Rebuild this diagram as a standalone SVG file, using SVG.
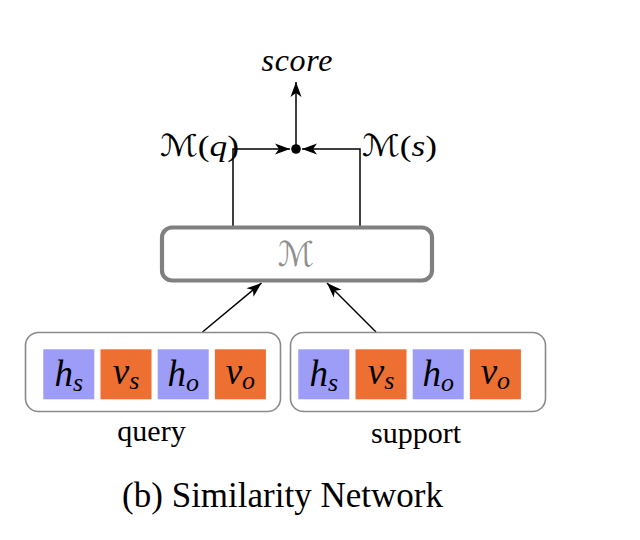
<svg xmlns="http://www.w3.org/2000/svg" width="640" height="540" viewBox="0 0 640 540">
<style>
.math{font-family:"Liberation Serif","DejaVu Serif",serif;font-style:italic;fill:#000}
.cal{font-family:"DejaVu Serif","DejaVu Sans",serif;font-style:normal}
.up{font-style:normal}
.lbl{font-family:"Liberation Serif","Times New Roman",serif;fill:#000}
.sq-h{fill:#9d9cf6}
.sq-v{fill:#ed6f31}
.grp{fill:#fff;stroke:#8a8a8a;stroke-width:1.6}
.cell{font-family:"Liberation Serif","DejaVu Serif",serif;font-style:italic;font-size:37px;text-anchor:middle;fill:#000}
.sub{font-size:26px}
.conn{fill:none;stroke:#000;stroke-width:1.5}
</style>
<defs>
<marker id="arr" viewBox="-16 -6 17 12" refX="0" refY="0" markerWidth="17" markerHeight="12" markerUnits="userSpaceOnUse" orient="auto">
<path d="M0,0 L-15,-5.5 L-11,0 L-15,5.5 Z" fill="#000"/>
</marker>
</defs>
<rect width="640" height="540" fill="#fff"/>

<g id="connectors">
<line class="conn" x1="296" y1="149" x2="296" y2="82" marker-end="url(#arr)"/>
<polyline class="conn" points="233,227 233,149 290,149" marker-end="url(#arr)"/>
<polyline class="conn" points="360,227 360,149 302,149" marker-end="url(#arr)"/>
<line class="conn" x1="202.5" y1="332" x2="261.5" y2="283" marker-end="url(#arr)"/>
<line class="conn" x1="376" y1="332" x2="327" y2="283" marker-end="url(#arr)"/>
<circle cx="296" cy="149" r="4.8" fill="#000"/>
</g>

<g id="score">
<text class="math" x="297" y="71" font-size="32" text-anchor="middle" textLength="71" lengthAdjust="spacing">score</text>
</g>

<g id="label-mq">
<text class="math" x="160" y="156" font-size="30" textLength="79" lengthAdjust="spacingAndGlyphs"><tspan class="cal">ℳ</tspan><tspan class="up">(</tspan>q<tspan class="up">)</tspan></text>
</g>
<g id="label-ms">
<text class="math" x="362" y="156" font-size="30" textLength="75" lengthAdjust="spacingAndGlyphs"><tspan class="cal">ℳ</tspan><tspan class="up">(</tspan>s<tspan class="up">)</tspan></text>
</g>

<g id="model">
<rect x="162" y="227.5" width="270" height="53" rx="10" fill="#fff" stroke="#808080" stroke-width="4.2"/>
<text class="cal" x="296" y="266" font-size="34" text-anchor="middle" fill="#909090">ℳ</text>
</g>

<g id="query">
<rect class="grp" x="25.5" y="332.5" width="255" height="79" rx="13"/>
<rect class="sq-h" x="43.3" y="349.3" width="51" height="50"/>
<rect class="sq-v" x="100.5" y="349.3" width="51" height="50"/>
<rect class="sq-h" x="157.7" y="349.3" width="51" height="50"/>
<rect class="sq-v" x="214.9" y="349.3" width="51" height="50"/>
<text class="cell" x="68.8" y="386">h<tspan class="sub" dy="5">s</tspan></text>
<text class="cell" x="126" y="384">v<tspan class="sub" dy="5">s</tspan></text>
<text class="cell" x="183.2" y="386">h<tspan class="sub" dy="5">o</tspan></text>
<text class="cell" x="240.4" y="384">v<tspan class="sub" dy="5">o</tspan></text>
<text class="lbl" x="151.5" y="441" font-size="30" text-anchor="middle">query</text>
</g>

<g id="support">
<rect class="grp" x="290.5" y="332.5" width="255" height="79" rx="13"/>
<rect class="sq-h" x="298.3" y="349.3" width="51" height="50"/>
<rect class="sq-v" x="355.5" y="349.3" width="51" height="50"/>
<rect class="sq-h" x="412.7" y="349.3" width="51" height="50"/>
<rect class="sq-v" x="469.9" y="349.3" width="51" height="50"/>
<text class="cell" x="323.8" y="386">h<tspan class="sub" dy="5">s</tspan></text>
<text class="cell" x="381" y="384">v<tspan class="sub" dy="5">s</tspan></text>
<text class="cell" x="438.2" y="386">h<tspan class="sub" dy="5">o</tspan></text>
<text class="cell" x="495.4" y="384">v<tspan class="sub" dy="5">o</tspan></text>
<text class="lbl" x="416" y="443" font-size="30" text-anchor="middle">support</text>
</g>

<g id="caption">
<text class="lbl" x="282.5" y="507" font-size="35" text-anchor="middle">(b) Similarity Network</text>
</g>
</svg>
